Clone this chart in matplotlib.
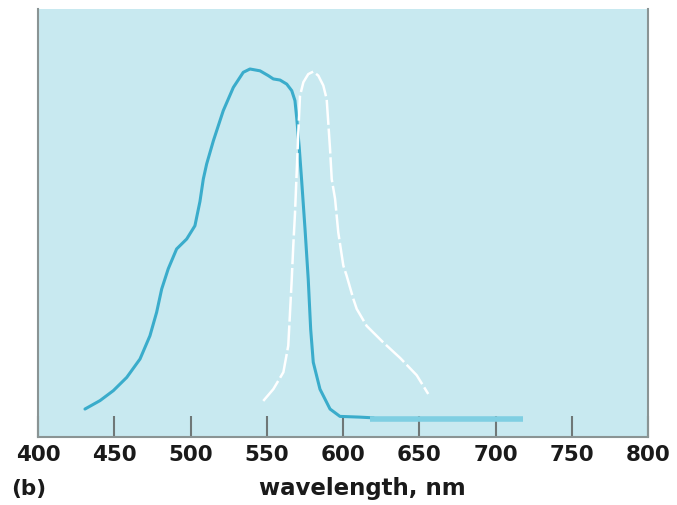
import numpy as np
import matplotlib
matplotlib.use("Agg")
import matplotlib.pyplot as plt

# absorption curve (solid blue), relative units, peak = 1
abs_wl = [430.8, 440.7, 449.4, 458.2, 466.9, 473.4, 477.8, 481.1, 485.4, 490.9,
          497.5, 502.9, 506.2, 508.4, 510.6, 515.0, 521.5, 528.1, 534.6, 539.0,
          545.6, 551.0, 554.3, 558.7, 563.1, 566.4, 568.5, 569.6, 571.3, 572.9,
          575.1, 577.2, 578.8, 580.5, 584.9, 591.5, 598.0, 611.1, 620.0]
abs_val = [0.076, 0.099, 0.126, 0.162, 0.212, 0.275, 0.339, 0.402, 0.457, 0.511,
           0.538, 0.574, 0.640, 0.701, 0.742, 0.805, 0.887, 0.950, 0.991, 1.000,
           0.995, 0.982, 0.973, 0.970, 0.959, 0.941, 0.914, 0.869, 0.787, 0.696,
           0.565, 0.429, 0.293, 0.203, 0.130, 0.076, 0.056, 0.054, 0.052]
# flat tail drawn thicker
tail_wl = [618, 718]
tail_val = [0.049, 0.049]

# emission curve (dashed white)
em_wl = [547.7, 554.3, 560.9, 564.1, 565.2, 566.4, 567.4, 568.5, 570.7, 571.8,
         574.0, 577.2, 580.5, 583.8, 587.1, 589.3, 591.5, 592.6, 594.8, 596.9,
         600.2, 602.4, 606.8, 609.0, 615.5, 626.4, 637.4, 648.3, 655.9]
em_val = [0.098, 0.130, 0.176, 0.248, 0.334, 0.429, 0.520, 0.606, 0.828, 0.927,
          0.964, 0.986, 0.993, 0.982, 0.955, 0.918, 0.783, 0.701, 0.647, 0.556,
          0.466, 0.438, 0.375, 0.348, 0.302, 0.257, 0.215, 0.168, 0.117]

xticks = [400, 450, 500, 550, 600, 650, 700, 750, 800]

plt.rcParams['font.family'] = ['DejaVu Sans']

fig = plt.figure(figsize=(6.77, 5.06), dpi=100)
ax = fig.add_axes([38 / 677, 68 / 506, 610 / 677, 428 / 506])
ax.set_facecolor("#c8e9f0")

ax.plot(abs_wl, abs_val, color="#3aaccb", lw=2.2, solid_joinstyle="round",
        solid_capstyle="round")
ax.plot(tail_wl, tail_val, color="#7fcfe2", lw=4, solid_capstyle="butt")
ax.plot(em_wl, em_val, color="white", lw=1.8, dashes=(10, 1.5),
        dash_joinstyle="round")

ax.set_xlim(400, 800)
ax.set_ylim(0, 428 / 368)
ax.set_xticks(xticks)
ax.set_yticks([])
ax.tick_params(axis="x", direction="in", length=15, width=1.5, color="#6f7777",
               pad=5, labelsize=15.5)
for lab in ax.get_xticklabels():
    lab.set_fontweight("bold")
    lab.set_color("#1a1a1a")

ax.spines["top"].set_visible(False)
for s in ["left", "right", "bottom"]:
    ax.spines[s].set_color("#8a9494")
    ax.spines[s].set_linewidth(1.5)

fig.text(362 / 677, 1 - 489 / 506, "wavelength, nm", ha="center", va="center",
         fontsize=16.5, fontweight="bold", color="#1a1a1a")
fig.text(11 / 677, 1 - 489 / 506, "(b)", ha="left", va="center",
         fontsize=15.5, fontweight="bold", color="#1a1a1a")

fig.savefig("out.png", dpi=100)
